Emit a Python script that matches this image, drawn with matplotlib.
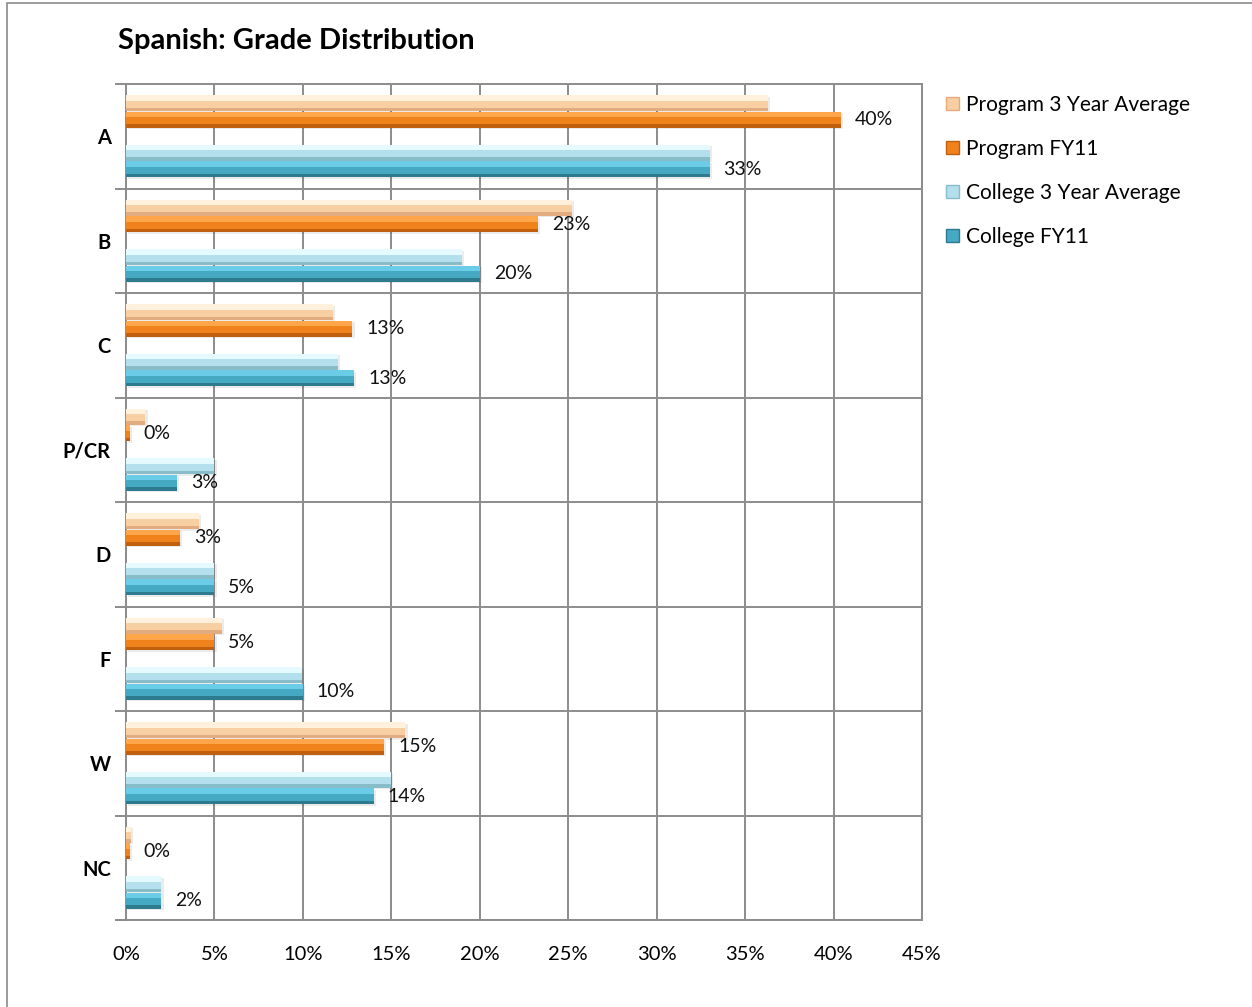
import matplotlib
matplotlib.use("Agg")
import matplotlib.pyplot as plt
from matplotlib.patches import Patch, Rectangle
import numpy as np

categories = ["A", "B", "C", "P/CR", "D", "F", "W", "NC"]
series_names = ["Program 3 Year Average", "Program FY11", "College 3 Year Average", "College FY11"]
program_3yr = [36.3, 25.2, 11.7, 1.1, 4.1, 5.4, 15.8, 0.3]
program_fy11 = [40.4, 23.3, 12.8, 0.2, 3.05, 5.0, 14.6, 0.2]
college_3yr = [33.0, 19.0, 12.0, 5.0, 5.0, 9.95, 15.0, 2.0]
college_fy11 = [33.0, 20.0, 12.9, 2.9, 5.0, 10.0, 14.0, 2.0]
x_ticks = [0, 5, 10, 15, 20, 25, 30, 35, 40, 45]

FONT = ["Lato", "DejaVu Sans"]
plt.rcParams['font.family'] = FONT

W, H = 1252, 1007
fig = plt.figure(figsize=(W / 100, H / 100), dpi=100)
fig.patch.set_facecolor("white")

# chart-area border
fig.add_artist(Rectangle((7 / W, 1 - 1010 / H), (1300 - 7) / W, (1010 - 3) / H,
                         transform=fig.transFigure, fill=False, edgecolor="#8a8a8a", lw=1.2))

ax = fig.add_axes([126 / W, 1 - 920 / H, (922 - 126) / W, (920 - 84) / H])

y = np.arange(len(categories))
slot = 16.5 / 104.5
h = slot * 0.98
series = [program_3yr, program_fy11, college_3yr, college_fy11]
offsets = [-2 * slot, -1 * slot, 1 * slot, 2 * slot]
colors = [
    ("#FFF1DC", "#F8CFA3", "#E3AB80"),
    ("#FFA64A", "#F0821C", "#C0600E"),
    ("#E4FAFE", "#B3E0EC", "#88BCC9"),
    ("#6ACCE6", "#45A9C3", "#2E7A8E"),
]
label_series = [1, 3]

for i, (vals, off, (lt, md, dk)) in enumerate(zip(series, offsets, colors)):
    yy = y + off
    # shadow
    ax.barh(yy + 0.014, vals, height=h, left=0.12, color="#000000", alpha=0.08, zorder=2, linewidth=0)
    ax.barh(yy, vals, height=h, color=md, zorder=3, linewidth=0)
    ax.barh(yy - h * 0.32, vals, height=h * 0.36, color=lt, zorder=4, linewidth=0)
    ax.barh(yy + h * 0.39, vals, height=h * 0.22, color=dk, zorder=4, linewidth=0)
    if i in label_series:
        for v, yv in zip(vals, yy):
            ax.annotate(f"{int(round(v))}%", xy=(v, yv), xytext=(10, 0), textcoords="offset points",
                        ha="left", va="center", fontsize=14, color="#111111", zorder=6)

ax.set_xlim(0, 45)
ax.set_ylim(len(categories) - 0.5, -0.5)
ax.set_xticks(x_ticks)
ax.set_xticklabels([f"{t}%" for t in x_ticks], fontsize=14.5)
ax.tick_params(axis="x", length=0, pad=19)
ax.set_yticks(y)
ax.set_yticklabels(categories, fontsize=14.5, fontweight="bold")
ax.tick_params(axis="y", which="major", length=0, pad=11)
ax.set_yticks(np.arange(len(categories) + 1) - 0.5, minor=True)
ax.tick_params(axis="y", which="minor", length=8, width=1.4, color="#8c8c8c")
ax.grid(True, axis="x", which="major", color="#8c8c8c", lw=1.4, zorder=1)
ax.grid(True, axis="y", which="minor", color="#8c8c8c", lw=1.4, zorder=1)
ax.set_axisbelow(True)
for s in ax.spines.values():
    s.set_color("#8c8c8c")
    s.set_linewidth(1.4)

# extend bottom axis line left like the tick marks
fig.add_artist(plt.Line2D([118 / W, 126 / W], [1 - 920 / H, 1 - 920 / H],
                          transform=fig.transFigure, color="#8c8c8c", lw=1.4))

fig.text(118 / W, 1 - 41 / H, "Spanish: Grade Distribution", fontsize=21, fontweight="bold",
         ha="left", va="center", color="#000000")

handles = [Patch(facecolor=md, edgecolor=dk, linewidth=1.0) for (lt, md, dk) in colors]
fig.legend(handles, series_names, loc="upper left", bbox_to_anchor=(946 / W, 1 - 95 / H),
           frameon=False, fontsize=15, handlelength=0.62, handleheight=0.62, handletextpad=0.35,
           labelspacing=1.15, borderaxespad=0, borderpad=0)

fig.savefig("out.png", dpi=100, facecolor="white")
